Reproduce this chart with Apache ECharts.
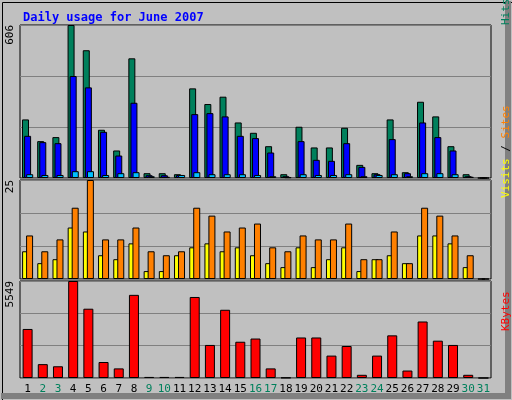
<!DOCTYPE html>
<html><head><meta charset="utf-8">
<script src="https://cdn.jsdelivr.net/npm/echarts@6/dist/echarts.min.js"></script>
<style>html,body{margin:0;padding:0;background:#c0c0c0}#c{width:512px;height:400px}</style>
</head><body><div id="c"></div>
<script>
const days = Array.from({length:31},(_,i)=>String(i+1));
const weekend = [2,3,9,10,16,17,23,24,30,31];
const hits  = [232,146,162,606,506,191,109,474,19,19,15,355,293,322,220,179,126,15,203,121,121,199,52,19,232,23,302,244,126,15,0];
const files = [167,142,138,404,359,183,89,298,11,11,12,253,257,244,167,158,101,7,146,72,68,138,44,15,154,19,220,162,109,7,0];
const pages = [15,12,12,27,27,12,19,23,7,5,12,23,15,15,15,12,7,3,15,12,12,15,7,12,15,7,19,19,15,5,0];
const visits= [11,7,10,18,25,10,10,13,7,6,7,18,16,12,13,14,8,7,11,10,10,14,5,5,12,4,18,16,11,6,0];
const sites = [7,4,5,13,12,6,5,9,2,2,6,8,9,7,8,6,4,3,8,3,5,8,2,5,6,4,11,11,9,3,0];
const kbytes= [2805,793,671,5549,3964,915,549,4757,61,61,61,4635,1891,3903,2074,2257,549,20,2318,2318,1281,1830,183,1281,2440,427,3233,2135,1891,183,0];
const maxHits=606, maxVisits=25, maxKB=5549;

const font='DejaVu Sans Mono';
const grids=[{left:20,right:21,top:25,height:153},{left:20,right:21,top:180,height:99},{left:20,right:21,top:281,height:97}];
function xa(i,show){return {type:'category',gridIndex:i,data:days,boundaryGap:true,
  axisLine:{show:false},axisTick:{show:false},
  axisLabel:{show:show,interval:0,fontFamily:font,fontSize:11,margin:6,
    formatter:(v)=>weekend.includes(+v)?'{g|'+v+'}':'{k|'+v+'}',
    rich:{g:{color:'#00805c',fontFamily:font,fontSize:11},k:{color:'#000',fontFamily:font,fontSize:11}}}};}
function ya(i,max){return {type:'value',gridIndex:i,min:0,max:max,interval:max/3,
  axisLine:{show:false},axisTick:{show:false},
  splitLine:{lineStyle:{color:'#808080',width:1}},
  axisLabel:{rotate:90,margin:4,fontFamily:font,fontSize:11,color:'#000',align:'right',verticalAlign:'bottom',
    formatter:(v)=>v===max?String(max):''}};}
const bs={borderColor:'#000',borderWidth:1};
const option={
  backgroundColor:'#c0c0c0',animation:false,
  title:{text:'Daily usage for June 2007',left:18,top:7,textStyle:{fontFamily:font,fontSize:12,fontWeight:'bold',color:'#0000ff'}},
  grid:grids.map(g=>Object.assign({show:true,borderColor:'#000',borderWidth:1,backgroundColor:'#c0c0c0'},g)),
  xAxis:[xa(0,false),xa(1,false),xa(2,true)],
  yAxis:[ya(0,maxHits),ya(1,maxVisits),ya(2,maxKB)],
  series:[
    {type:'bar',xAxisIndex:0,yAxisIndex:0,data:hits,barWidth:7,barGap:'-70%',itemStyle:Object.assign({color:'#00805c'},bs)},
    {type:'bar',xAxisIndex:0,yAxisIndex:0,data:files,barWidth:7,barGap:'-70%',itemStyle:Object.assign({color:'#0000ff'},bs)},
    {type:'bar',xAxisIndex:0,yAxisIndex:0,data:pages,barWidth:7,barGap:'-70%',itemStyle:Object.assign({color:'#00c0ff'},bs)},
    {type:'bar',xAxisIndex:1,yAxisIndex:1,data:sites,barWidth:7,barGap:'-43%',itemStyle:Object.assign({color:'#ffff00'},bs)},
    {type:'bar',xAxisIndex:1,yAxisIndex:1,data:visits,barWidth:7,barGap:'-43%',itemStyle:Object.assign({color:'#ff8000'},bs)},
    {type:'bar',xAxisIndex:2,yAxisIndex:2,data:kbytes,barWidth:10,itemStyle:Object.assign({color:'#ff0000'},bs)}
  ],
  graphic:[
    {type:'rect',left:0,top:0,shape:{width:512,height:400},style:{fill:'none',stroke:'#000',lineWidth:1},silent:true},
    {type:'rect',left:505,top:1,shape:{width:6,height:398},style:{fill:'#808080'},silent:true},
    {type:'rect',left:1,top:393,shape:{width:510,height:6},style:{fill:'#808080'},silent:true},
    {type:'text',x:506,y:25,rotation:Math.PI/2,style:{text:'{h|Hits}{s| / }{f|Files}{s| / }{p|Pages}',align:'left',verticalAlign:'middle',
      rich:{h:{fill:'#00805c',fontFamily:font,fontSize:11},f:{fill:'#0000ff',fontFamily:font,fontSize:11},p:{fill:'#00c0ff',fontFamily:font,fontSize:11},s:{fill:'#000',fontFamily:font,fontSize:11}}}},
    {type:'text',x:506,y:198,rotation:Math.PI/2,style:{text:'{v|Visits}{s| / }{t|Sites}',align:'left',verticalAlign:'middle',
      rich:{v:{fill:'#ffff00',fontFamily:font,fontSize:11},t:{fill:'#ff8000',fontFamily:font,fontSize:11},s:{fill:'#000',fontFamily:font,fontSize:11}}}},
    {type:'text',x:506,y:331,rotation:Math.PI/2,style:{text:'KBytes',fill:'#ff0000',fontFamily:font,fontSize:11,align:'left',verticalAlign:'middle'}}
  ]
};
echarts.init(document.getElementById('c')).setOption(option);
</script></body></html>
